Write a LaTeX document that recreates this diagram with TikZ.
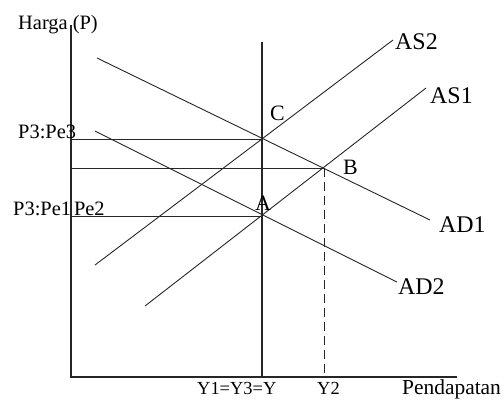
\documentclass[tikz,border=0pt]{standalone}
\usepackage{fontspec}
\setmainfont{Liberation Serif}
\begin{document}
\begin{tikzpicture}[x=1bp,y=-1bp,
  axisline/.style={line width=1.2bp,draw=black!85},
  curve/.style={line width=0.9bp,draw=black!85},
  guide/.style={line width=1bp,draw=black!85},
  dashguide/.style={line width=1bp,draw=black!85,dash pattern=on 9bp off 5bp},
  axlab/.style={anchor=base west,inner sep=0pt,font=\fontsize{20.5}{20}\selectfont},
  ylab/.style={anchor=base west,inner sep=0pt,font=\fontsize{18.5}{20}\selectfont},
  crvlab/.style={anchor=base west,inner sep=0pt,font=\fontsize{24}{24}\selectfont},
  ptlab/.style={anchor=base west,inner sep=0pt,font=\fontsize{22}{22}\selectfont}]
\useasboundingbox (0,0) rectangle (504,399);
% key coordinates
\coordinate (O) at (71,377);
\coordinate (Ytop) at (71,25);
\coordinate (Xend) at (457,377);
\coordinate (Vtop) at (262,42);
\coordinate (Vbot) at (262,377);
\coordinate (C) at (262,139);
\coordinate (B) at (324,168);
\coordinate (A) at (262,216);
\coordinate (Bbot) at (324,377);
\coordinate (CL) at (71,139);
\coordinate (BL) at (71,168);
\coordinate (AL) at (71,216);
\coordinate (AS2s) at (95,265);
\coordinate (AS2e) at (393,40);
\coordinate (AS1s) at (145,306);
\coordinate (AS1e) at (426,88);
\coordinate (AD1s) at (97,58);
\coordinate (AD1e) at (430,220);
\coordinate (AD2s) at (95,131);
\coordinate (AD2e) at (397,282);
% axes
\draw[axisline] (Ytop) -- (O) -- (Xend);
\draw[axisline] (Vtop) -- (Vbot);
\draw[dashguide] (B) -- (Bbot);
% horizontal guides
\draw[guide] (CL) -- (C);
\draw[guide] (BL) -- (B);
\draw[guide] (AL) -- (A);
% curves
\draw[curve] (AS2s) -- (AS2e);
\draw[curve] (AS1s) -- (AS1e);
\draw[curve] (AD1s) -- (AD1e);
\draw[curve] (AD2s) -- (AD2e);
% labels
\node[axlab] (harga) at (18,29) {Harga (P)};
\node[axlab] (p3pe3) at (18,138) {P3:Pe3};
\node[axlab] (p3pe1) at (13,215) {P3:Pe1\kern3bp Pe2};
\node[ylab] (y1) at (197,394) {Y1=Y3=Y};
\node[ylab] (y2) at (317,394) {Y2};
\node[anchor=base west,inner sep=0pt,font=\fontsize{21.5}{22}\selectfont] (pend) at (402,394) {Pendapatan};
\node[crvlab] (as2) at (395,49) {AS2};
\node[crvlab] (as1) at (430,103) {AS1};
\node[crvlab] (ad1) at (439,232) {AD1};
\node[crvlab] (ad2) at (398,294) {AD2};
\node[ptlab] (lc) at (270,120) {C};
\node[ptlab] (lb) at (343,174) {B};
\node[ptlab] (la) at (255,210) {A};
\end{tikzpicture}
\end{document}
